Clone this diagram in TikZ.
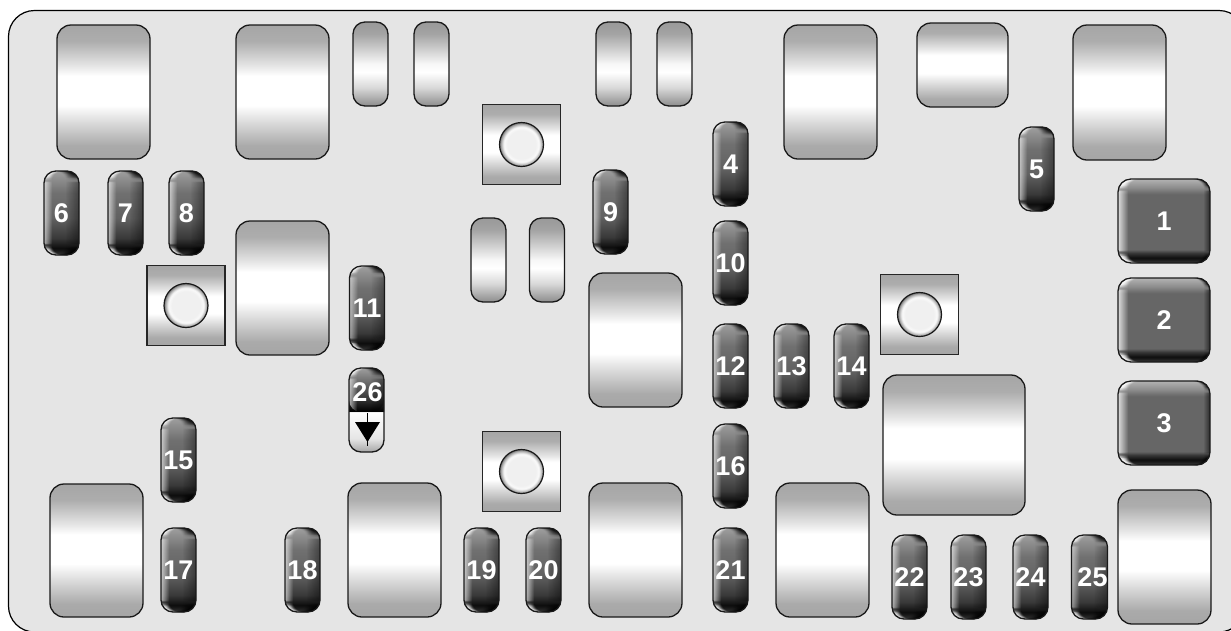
\documentclass[tikz,border=0pt]{standalone}
\usepackage{fontspec}
\setmainfont{Liberation Sans}
\definecolor{platefill}{gray}{0.90}
\definecolor{relayedge}{gray}{0.65}
\definecolor{fusetop}{gray}{0.62}
\definecolor{fusemid}{gray}{0.38}
\definecolor{fusedeep}{gray}{0.22}
\definecolor{fusebot}{gray}{0.05}
\definecolor{boxmid}{gray}{0.40}
\pgfdeclareverticalshading{relayshade}{100bp}{color(0bp)=(relayedge);color(25bp)=(relayedge);color(30bp)=(relayedge!95!white);color(38bp)=(relayedge!45!white);color(45bp)=(white);color(56bp)=(white);color(60bp)=(relayedge!30!white);color(69bp)=(relayedge!92!white);color(75bp)=(relayedge);color(100bp)=(relayedge)}
\pgfdeclareverticalshading{spareshade}{100bp}{color(0bp)=(black!45);color(25bp)=(black!45);color(36bp)=(black!15);color(45bp)=(white);color(50bp)=(white!97!black);color(68bp)=(black!36);color(75bp)=(black!40);color(100bp)=(black!40)}
\pgfdeclareverticalshading{fuseshade}{100bp}{color(0bp)=(black!80);color(25bp)=(black!80);color(29bp)=(fusebot);color(35bp)=(fusedeep);color(47bp)=(fusemid);color(62bp)=(black!56);color(75bp)=(fusetop);color(100bp)=(fusetop)}
\pgfdeclareverticalshading{diodeshade}{100bp}{color(0bp)=(relayedge);color(25bp)=(relayedge);color(33bp)=(white!90!black);color(48.8bp)=(white);color(49bp)=(black);color(51bp)=(fusebot);color(57bp)=(fusedeep);color(65bp)=(fusemid);color(75bp)=(fusetop);color(100bp)=(fusetop)}
\pgfdeclareverticalshading{boxshade}{100bp}{color(0bp)=(fusedeep);color(25bp)=(fusedeep);color(28bp)=(fusebot);color(31bp)=(fusedeep);color(33bp)=(boxmid);color(66bp)=(boxmid);color(70bp)=(fusetop!70!boxmid);color(75bp)=(black!30);color(100bp)=(black!30)}
\pgfdeclareradialshading{capshade}{\pgfpointorigin}{color(0bp)=(white!94!black);color(16bp)=(white!94!black);color(20bp)=(white!98!black);color(23bp)=(black!30);color(25bp)=(black!55);color(50bp)=(black!55)}
% soft bands along both sides, one strip per point
\newcommand{\sideglow}[4]{%
  \foreach \i in {1,...,#1}
    \fill[white, fill opacity={#2*(1-(\i-1)/#1)}] ([xshift={(\i-1)*1pt}]path picture bounding box.south west) rectangle ([xshift={\i*1pt}]path picture bounding box.north west);
  \foreach \i in {1,...,#3}
    \fill[black, fill opacity={#4*(1-(\i-1)/#3)}] ([xshift={-(\i-1)*1pt}]path picture bounding box.south east) rectangle ([xshift={-\i*1pt}]path picture bounding box.north east);
}
\tikzset{
  partbase/.style={draw=black!90, line width=1.3pt, inner sep=0pt, text=white, font=\bfseries\fontsize{27}{27}\selectfont},
  relaybox/.style={partbase, shading=relayshade, rounded corners=14pt, minimum width=#1},
  relaybox/.default=93pt,
  blankfuse/.style={partbase, shading=spareshade, rounded corners=12pt, minimum width=35pt, minimum height=84pt},
  fusebox/.style={partbase, shading=fuseshade, rounded corners=12pt, minimum width=35pt, minimum height=84pt,
    path picture={\sideglow{8}{0.6}{13}{0.35}}},
  maxibox/.style={partbase, shading=boxshade, rounded corners=13pt, minimum width=92pt, minimum height=84pt,
    path picture={\sideglow{10}{0.75}{6}{0.45}}},
  mountbase/.style={draw=black!85, line width=1.2pt, shading=relayshade, minimum width=78pt, minimum height=80pt},
  mountcap/.style={draw=black!90, line width=1.2pt, circle, shading=capshade, minimum size=44pt, inner sep=0pt},
  diodelabel/.style={inner sep=0pt, text=white, font=\bfseries\fontsize{27}{27}\selectfont}
}
\begin{document}
\begin{tikzpicture}[x=1pt, y=-1pt]
\useasboundingbox (0,0) rectangle (1231,630);
\fill[white] (0,0) rectangle (1231,630);

% housing
\draw[line width=1.2pt, fill=platefill, rounded corners=26pt] (8.5,10.5) -- (1245,10.5) -- (1245,632) -- (8.5,632) -- cycle;

% relays
\node[relaybox, minimum height=134pt] at (103.5,92) (relayA) {};
\node[relaybox, minimum height=134pt] at (282.5,92) (relayB) {};
\node[relaybox, minimum height=134pt] at (830.5,92) (relayC) {};
\node[relaybox=91pt, minimum height=84pt] at (962.5,65) (relayD) {};
\node[relaybox, minimum height=135pt] at (1119.5,92.5) (relayE) {};
\node[relaybox, minimum height=134pt] at (282.5,288) (relayF) {};
\node[relaybox, minimum height=134pt] at (635.5,340) (relayG) {};
\node[relaybox=142pt, minimum height=140pt] at (954,445) (relayH) {};
\node[relaybox, minimum height=133pt] at (96.5,550.5) (relayI) {};
\node[relaybox, minimum height=134pt] at (394.5,550) (relayJ) {};
\node[relaybox, minimum height=134pt] at (635.5,550) (relayK) {};
\node[relaybox, minimum height=134pt] at (822.5,550) (relayL) {};
\node[relaybox, minimum height=134pt] at (1164.5,557) (relayM) {};

% spare fuses
\node[blankfuse] at (370.5,64) (spareA) {};
\node[blankfuse] at (431.5,64) (spareB) {};
\node[blankfuse] at (613.5,64) (spareC) {};
\node[blankfuse] at (674.5,64) (spareD) {};
\node[blankfuse] at (488.5,260) (spareE) {};
\node[blankfuse] at (547,260) (spareF) {};

% mounts
\node[mountbase] at (521.5,144.5) (mountA) {};
\node[mountbase] at (186,305.5) (mountB) {};
\node[mountbase] at (919.5,314.5) (mountC) {};
\node[mountbase] at (521.5,471.5) (mountD) {};
\node[mountcap] at (mountA.center) (capA) {};
\node[mountcap] at (mountB.center) (capB) {};
\node[mountcap] at (mountC.center) (capC) {};
\node[mountcap] at (mountD.center) (capD) {};

% large fuses
\node[maxibox] at (1164,221) (fuse1) {1};
\node[maxibox] at (1164,320) (fuse2) {2};
\node[maxibox] at (1164,423) (fuse3) {3};

% small fuses
\node[fusebox] at (730.5,164) (fuse4) {4};
\node[fusebox] at (1036.5,169) (fuse5) {5};
\node[fusebox] at (61.5,213) (fuse6) {6};
\node[fusebox] at (125.5,213) (fuse7) {7};
\node[fusebox] at (186.5,213) (fuse8) {8};
\node[fusebox] at (610.5,212) (fuse9) {9};
\node[fusebox] at (730.5,263) (fuse10) {10};
\node[fusebox] at (367,308) (fuse11) {11};
\node[fusebox] at (730.5,366) (fuse12) {12};
\node[fusebox] at (791.5,366) (fuse13) {13};
\node[fusebox] at (851.5,366) (fuse14) {14};
\node[fusebox] at (178.5,460) (fuse15) {15};
\node[fusebox] at (730.5,466) (fuse16) {16};
\node[fusebox] at (178.5,570) (fuse17) {17};
\node[fusebox] at (302.5,570) (fuse18) {18};
\node[fusebox] at (481.5,570) (fuse19) {19};
\node[fusebox] at (543.5,570) (fuse20) {20};
\node[fusebox] at (730.5,570) (fuse21) {21};
\node[fusebox] at (909.5,577) (fuse22) {22};
\node[fusebox] at (968.5,577) (fuse23) {23};
\node[fusebox] at (1030.5,577) (fuse24) {24};
\node[fusebox] at (1089.5,577) (fuse25) {\hspace*{6pt}25};

% fuse puller
\node[partbase, shading=diodeshade, rounded corners=12pt, minimum width=35pt, minimum height=84pt,
  path picture={\clip (path picture bounding box.north west) rectangle ([yshift=-44pt]path picture bounding box.north east); \sideglow{8}{0.6}{13}{0.35}}] at (366.5,410) (fuse26) {};
\node[diodelabel] at (367.5,392) (label26) {26};
\coordinate (diodeTop) at (367,413);
\coordinate (diodeEnd) at (367,446);
\draw[line width=1pt] (diodeTop) -- (diodeEnd);
\fill (355,422) -- (380,422) -- (367.5,442) -- cycle;
\end{tikzpicture}
\end{document}
